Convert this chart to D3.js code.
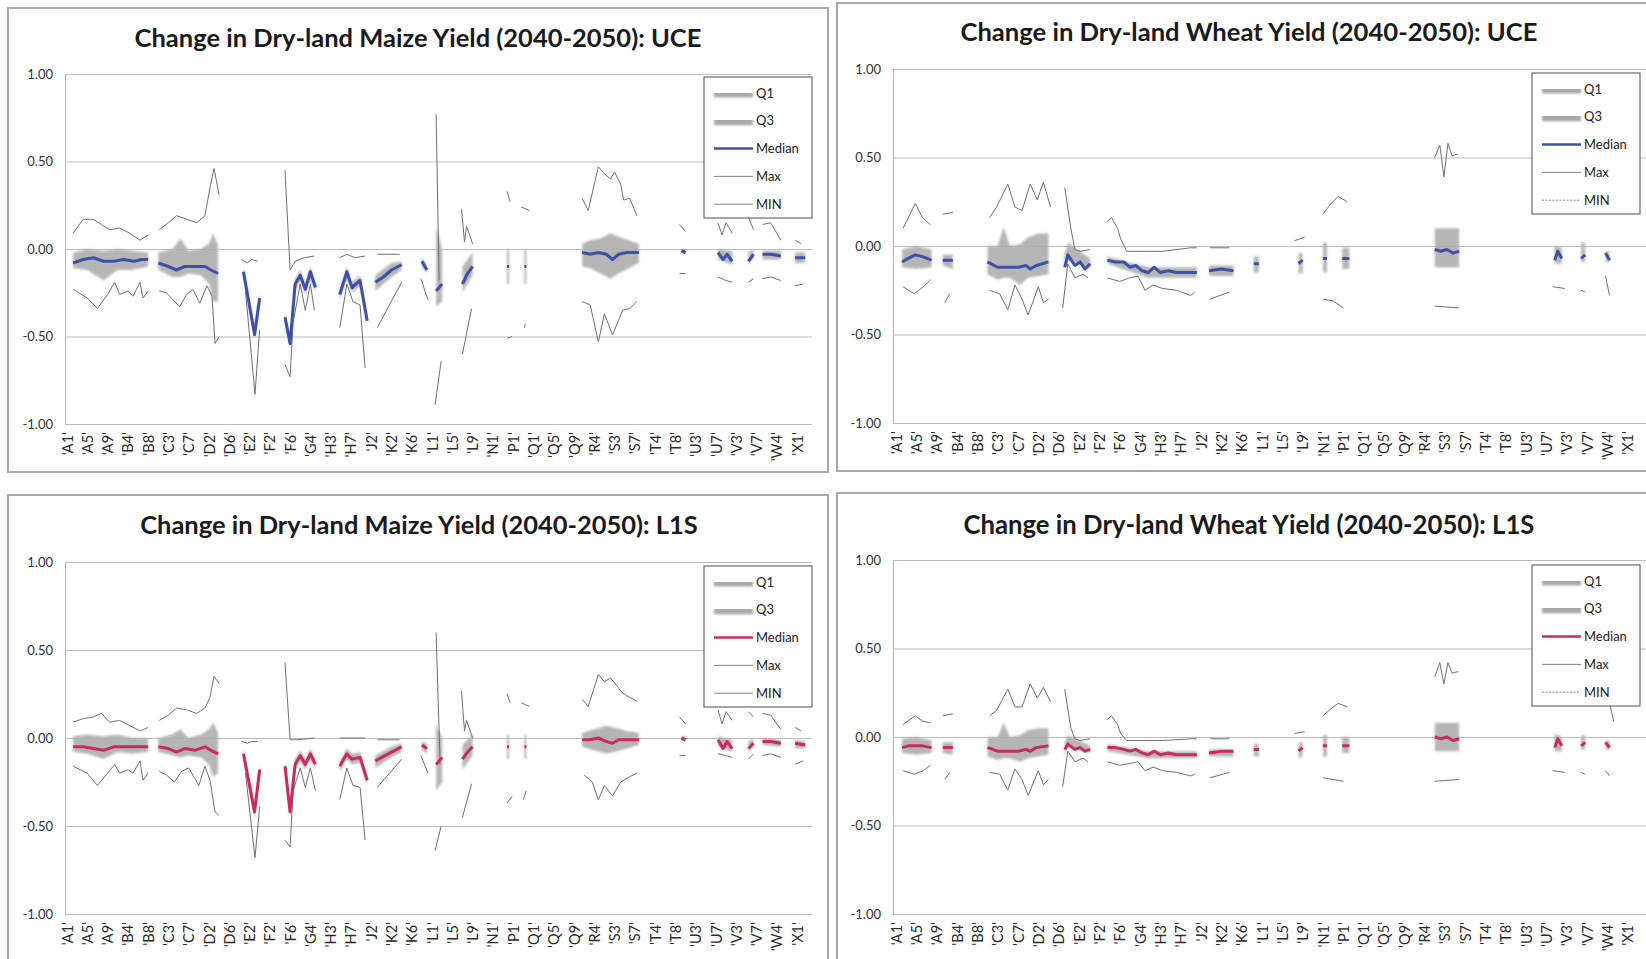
<!DOCTYPE html>
<html>
<head>
<meta charset="utf-8">
<script src="https://cdn.jsdelivr.net/npm/d3@7"></script>
<style>
  body { margin: 0; background: #fff; }
  svg { display: block; font-family: Lato, "Open Sans", sans-serif; }
</style>
</head>
<body>
<svg id="chart" width="1646" height="959"></svg>
<script>
// category labels on the x axis (every 4th site)
const xLabels = ["'A1'","'A5'","'A9'","'B4'","'B8'","'C3'","'C7'","'D2'","'D6'","'E2'","'F2'","'F6'","'G4'",
  "'H3'","'H7'","'J2'","'K2'","'K6'","'L1'","'L5'","'L9'","'N1'","'P1'","'Q1'","'Q5'","'Q9'","'R4'","'S3'",
  "'S7'","'T4'","'T8'","'U3'","'U7'","'V3'","'V7'","'W4'","'X1'"];
const yTicks = [-1, -0.5, 0, 0.5, 1];
const legendNames = ["Q1", "Q3", "Median", "Max", "MIN"];

// x = position along the category axis (label index), null = gap
// ---- Maize UCE
const maizeUCE_med = [[0.3,-0.08],[0.8,-0.06],[1.3,-0.05],[1.8,-0.07],[2.3,-0.07],[2.8,-0.06],[3.3,-0.07],[3.7,-0.06],[4.0,-0.06],null,
  [4.5,-0.08],[5.0,-0.10],[5.4,-0.12],[5.8,-0.10],[6.3,-0.10],[6.8,-0.10],[7.1,-0.12],[7.45,-0.14],null,
  [8.7,-0.13],[9.25,-0.49],[9.5,-0.28],null,
  [10.75,-0.39],[11.0,-0.54],[11.25,-0.20],[11.5,-0.15],[11.75,-0.23],[12.0,-0.13],[12.25,-0.22],null,
  [13.45,-0.26],[13.8,-0.13],[14.05,-0.22],[14.45,-0.18],[14.8,-0.41],null,
  [15.2,-0.19],[15.6,-0.16],[16.0,-0.12],[16.5,-0.09],null,
  [17.5,-0.07],[17.75,-0.12],null,[18.2,-0.24],[18.5,-0.20],null,[19.5,-0.20],[19.75,-0.14],[20.0,-0.10],null,
  [21.7,-0.10],[21.8,-0.10],null,[22.55,-0.10],[22.65,-0.10],null,
  [25.4,-0.02],[25.8,-0.03],[26.2,-0.02],[26.6,-0.03],[26.9,-0.06],[27.2,-0.03],[27.6,-0.02],[28.2,-0.02],null,
  [30.3,-0.01],[30.5,-0.02],null,[32.1,-0.02],[32.35,-0.06],[32.55,-0.03],[32.8,-0.07],null,
  [33.6,-0.07],[33.85,-0.03],null,[34.3,-0.03],[34.7,-0.03],[35.2,-0.04],null,[35.9,-0.05],[36.4,-0.05]];
const maizeUCE_q = [[0.3,-0.11,-0.02],[1.0,-0.12,0.0],[1.8,-0.18,-0.01],[2.5,-0.12,0.0],[3.2,-0.12,-0.01],[4.0,-0.10,-0.02],null,
  [4.5,-0.12,-0.02],[5.2,-0.16,0.0],[5.6,-0.16,0.06],[6.0,-0.14,-0.01],[6.6,-0.15,0.0],[7.0,-0.20,0.03],[7.2,-0.30,0.09],[7.45,-0.30,0.02],null,
  [8.7,-0.16,-0.10],[9.25,-0.50,-0.44],[9.5,-0.31,-0.25],null,
  [10.75,-0.42,-0.36],[11.0,-0.56,-0.50],[11.25,-0.24,-0.17],[11.5,-0.18,-0.12],[11.75,-0.26,-0.20],[12.0,-0.17,-0.10],[12.25,-0.25,-0.19],null,
  [13.45,-0.29,-0.23],[13.8,-0.17,-0.10],[14.05,-0.25,-0.19],[14.45,-0.21,-0.15],[14.8,-0.44,-0.38],null,
  [15.2,-0.24,-0.15],[16.0,-0.16,-0.08],[16.5,-0.12,-0.07],null,
  [17.5,-0.10,-0.05],[17.75,-0.14,-0.09],null,[18.2,-0.33,0.13],[18.5,-0.30,0.0],null,[19.5,-0.25,-0.10],[20.0,-0.15,-0.02],null,
  [21.7,-0.20,0.0],[21.8,-0.20,0.0],null,[22.55,-0.20,0.0],[22.65,-0.20,0.0],null,
  [25.4,-0.10,0.03],[25.8,-0.11,0.05],[26.3,-0.14,0.06],[26.8,-0.17,0.09],[27.2,-0.14,0.07],[27.7,-0.11,0.05],[28.2,-0.08,0.03],null,
  [30.3,-0.03,0.0],[30.5,-0.03,0.0],null,[32.1,-0.06,0.0],[32.8,-0.09,-0.01],null,[33.6,-0.09,-0.02],[33.85,-0.05,0.0],null,
  [34.3,-0.06,-0.01],[35.2,-0.06,-0.01],null,[35.9,-0.08,-0.02],[36.4,-0.08,-0.02]];
const maizeUCE_max = [[0.3,0.09],[0.8,0.17],[1.3,0.17],[1.7,0.14],[2.1,0.11],[2.6,0.12],[3.1,0.09],[3.6,0.05],[4.0,0.08],null,
  [4.55,0.11],[5.0,0.15],[5.4,0.19],[5.9,0.17],[6.4,0.15],[6.8,0.19],[7.05,0.35],[7.25,0.46],[7.5,0.31],null,
  [8.6,-0.06],[8.9,-0.08],[9.1,-0.06],[9.4,-0.07],null,
  [10.75,0.45],[11.0,-0.12],[11.25,-0.07],[11.7,-0.05],[12.2,-0.04],null,
  [13.45,-0.05],[13.8,-0.03],[14.2,-0.05],[14.7,-0.04],null,[15.3,-0.03],[16.4,-0.03],null,
  [18.2,0.77],[18.35,-0.18],null,[19.45,0.23],[19.6,0.04],[19.7,0.13],[20.0,0.03],null,
  [21.7,0.33],[21.85,0.27],null,[22.4,0.24],[22.8,0.22],null,
  [25.4,0.29],[25.7,0.22],[26.2,0.47],[26.5,0.43],[26.8,0.40],[27.0,0.44],[27.3,0.37],[27.45,0.28],[27.75,0.29],[28.1,0.19],null,
  [30.2,0.14],[30.5,0.10],null,[32.1,0.15],[32.3,0.08],[32.5,0.15],[32.8,0.09],null,[33.6,0.18],[33.85,0.11],null,
  [34.3,0.14],[34.7,0.15],[35.0,0.09],[35.2,0.05],null,[35.9,0.05],[36.2,0.03]];
const maizeUCE_min = [[0.3,-0.23],[1.0,-0.28],[1.5,-0.34],[2.0,-0.26],[2.35,-0.19],[2.6,-0.26],[3.0,-0.24],[3.25,-0.27],[3.6,-0.19],[3.75,-0.28],[4.0,-0.24],null,
  [4.55,-0.24],[4.9,-0.25],[5.55,-0.33],[5.9,-0.26],[6.2,-0.23],[6.55,-0.31],[6.9,-0.21],[7.15,-0.27],[7.3,-0.54],[7.5,-0.50],null,
  [8.8,-0.24],[9.27,-0.83],[9.5,-0.46],null,
  [10.75,-0.66],[11.0,-0.73],[11.15,-0.42],[11.5,-0.20],[11.75,-0.35],[12.0,-0.20],[12.2,-0.35],null,
  [13.45,-0.45],[13.8,-0.20],[14.1,-0.30],[14.45,-0.32],[14.7,-0.68],null,
  [15.3,-0.45],[15.9,-0.32],[16.5,-0.19],null,[17.45,-0.17],[17.8,-0.29],null,[18.15,-0.89],[18.45,-0.64],null,
  [19.5,-0.60],[19.95,-0.34],null,[21.7,-0.51],[21.95,-0.50],null,[22.55,-0.45],[22.6,-0.43],null,
  [25.4,-0.30],[25.8,-0.32],[26.2,-0.53],[26.5,-0.37],[26.9,-0.49],[27.4,-0.35],[27.75,-0.34],[28.1,-0.30],null,
  [30.2,-0.14],[30.5,-0.14],null,[32.1,-0.16],[32.5,-0.18],[32.8,-0.19],null,[33.6,-0.19],[33.85,-0.17],null,
  [34.3,-0.17],[34.7,-0.16],[35.2,-0.18],null,[35.9,-0.21],[36.3,-0.20]];

// ---- Wheat UCE
const wheatUCE_med = [[0.3,-0.09],[0.6,-0.07],[0.95,-0.05],[1.3,-0.06],[1.75,-0.08],null,[2.3,-0.08],[2.8,-0.08],null,
  [4.5,-0.09],[5.0,-0.12],[5.5,-0.12],[6.0,-0.12],[6.4,-0.11],[6.6,-0.13],[6.9,-0.11],[7.5,-0.09],null,
  [8.3,-0.12],[8.45,-0.05],[8.8,-0.11],[9.05,-0.09],[9.3,-0.13],[9.55,-0.10],null,
  [10.4,-0.08],[10.8,-0.09],[11.2,-0.09],[11.5,-0.12],[11.8,-0.11],[12.1,-0.14],[12.4,-0.15],[12.7,-0.12],[13.0,-0.15],
  [13.4,-0.14],[13.8,-0.15],[14.3,-0.15],[14.8,-0.15],null,[15.4,-0.14],[16.0,-0.13],[16.6,-0.14],null,
  [17.6,-0.10],[17.85,-0.10],null,[19.8,-0.10],[20.0,-0.08],null,[21.0,-0.07],[21.2,-0.07],null,[21.95,-0.07],[22.3,-0.07],null,
  [26.5,-0.02],[26.8,-0.03],[27.1,-0.02],[27.4,-0.04],[27.7,-0.03],null,
  [32.4,-0.08],[32.55,-0.03],[32.75,-0.07],null,[33.7,-0.07],[33.9,-0.05],null,[34.9,-0.04],[35.1,-0.08]];
const wheatUCE_q = [[0.3,-0.12,-0.02],[1.0,-0.13,0.0],[1.75,-0.12,-0.02],null,[2.3,-0.11,-0.05],[2.8,-0.13,-0.05],null,
  [4.5,-0.16,0.0],[5.0,-0.19,0.0],[5.3,-0.18,0.11],[5.6,-0.18,0.0],[6.1,-0.22,0.01],[6.5,-0.18,0.05],[7.0,-0.17,0.07],[7.5,-0.16,0.07],null,
  [8.3,-0.15,-0.04],[8.45,-0.08,0.02],[9.55,-0.13,-0.07],null,
  [10.4,-0.10,-0.06],[12.4,-0.18,-0.12],[14.8,-0.18,-0.12],null,[15.4,-0.17,-0.11],[16.6,-0.17,-0.11],null,
  [17.6,-0.15,-0.06],[17.85,-0.15,-0.06],null,[19.8,-0.16,-0.04],[20.0,-0.15,-0.04],null,
  [21.0,-0.15,0.02],[21.2,-0.15,0.02],null,[21.95,-0.13,-0.01],[22.3,-0.13,-0.01],null,
  [26.5,-0.12,0.10],[27.7,-0.12,0.10],null,[32.4,-0.10,0.0],[32.75,-0.10,-0.01],null,
  [33.7,-0.09,0.02],[33.9,-0.09,0.02],null,[34.9,-0.09,-0.03],[35.1,-0.09,-0.03]];
const wheatUCE_max = [[0.35,0.10],[0.95,0.24],[1.3,0.16],[1.7,0.12],null,[2.3,0.18],[2.8,0.19],null,
  [4.6,0.16],[4.95,0.22],[5.5,0.35],[5.85,0.22],[6.2,0.20],[6.6,0.35],[6.95,0.26],[7.25,0.36],[7.6,0.22],null,
  [8.3,0.33],[8.6,0.10],[8.8,-0.02],[9.05,-0.03],[9.55,-0.02],null,
  [10.4,0.14],[10.6,0.16],[10.9,0.10],[11.05,0.04],[11.35,-0.03],[12.0,-0.03],[13.1,-0.03],[14.5,-0.01],[14.8,-0.01],null,
  [15.45,-0.01],[16.4,-0.01],null,[19.6,0.03],[20.1,0.05],null,[21.0,0.18],[21.4,0.24],[21.75,0.28],[22.2,0.25],null,
  [26.5,0.50],[26.75,0.57],[26.95,0.39],[27.15,0.58],[27.35,0.51],[27.65,0.52]];
const wheatUCE_min = [[0.35,-0.23],[0.9,-0.27],[1.35,-0.23],[1.7,-0.19],null,[2.4,-0.32],[2.65,-0.27],null,
  [4.6,-0.25],[5.1,-0.27],[5.5,-0.36],[5.85,-0.22],[6.2,-0.30],[6.5,-0.39],[7.0,-0.23],[7.25,-0.32],[7.5,-0.30],null,
  [8.2,-0.35],[8.45,-0.10],[8.8,-0.18],[9.2,-0.16],[9.45,-0.18],null,
  [10.4,-0.18],[11.0,-0.20],[11.5,-0.18],[11.9,-0.17],[12.25,-0.25],[12.65,-0.22],[13.1,-0.24],[13.8,-0.25],[14.5,-0.28],[14.7,-0.26],null,
  [15.45,-0.30],[16.4,-0.26],null,[21.0,-0.30],[21.5,-0.31],[22.0,-0.35],null,[26.5,-0.34],[27.7,-0.35],null,
  [32.3,-0.23],[32.9,-0.24],null,[33.7,-0.25],[33.9,-0.26],null,[34.9,-0.17],[35.1,-0.28]];

// ---- Maize L1S
const maizeL1S_med = [[0.3,-0.05],[0.8,-0.05],[1.3,-0.06],[1.8,-0.07],[2.3,-0.05],[2.8,-0.05],[3.3,-0.05],[3.7,-0.05],[4.0,-0.05],null,
  [4.5,-0.05],[5.0,-0.06],[5.4,-0.08],[5.8,-0.06],[6.3,-0.07],[6.8,-0.05],[7.1,-0.07],[7.45,-0.09],null,
  [8.7,-0.09],[9.25,-0.42],[9.5,-0.18],null,
  [10.75,-0.16],[11.0,-0.42],[11.25,-0.15],[11.5,-0.10],[11.75,-0.15],[12.0,-0.09],[12.25,-0.15],null,
  [13.45,-0.16],[13.8,-0.09],[14.05,-0.12],[14.45,-0.11],[14.8,-0.24],null,
  [15.2,-0.13],[16.0,-0.08],[16.5,-0.05],null,[17.5,-0.04],[17.75,-0.06],null,[18.2,-0.15],[18.5,-0.11],null,
  [19.5,-0.12],[19.75,-0.08],[20.0,-0.05],null,[21.7,-0.05],[21.8,-0.05],null,[22.55,-0.05],[22.65,-0.05],null,
  [25.4,-0.01],[25.8,-0.01],[26.2,0.0],[26.6,-0.02],[26.9,-0.03],[27.2,-0.01],[27.6,-0.01],[28.2,-0.01],null,
  [30.3,0.0],[30.5,-0.01],null,[32.1,-0.01],[32.35,-0.06],[32.55,-0.02],[32.8,-0.06],null,[33.6,-0.06],[33.85,-0.03],null,
  [34.3,-0.02],[34.7,-0.02],[35.2,-0.03],null,[35.9,-0.03],[36.4,-0.04]];
const maizeL1S_q = [[0.3,-0.08,0.01],[1.0,-0.09,0.02],[1.8,-0.12,0.01],[2.5,-0.08,0.02],[3.2,-0.09,0.0],[4.0,-0.08,0.0],null,
  [4.5,-0.08,0.0],[5.2,-0.10,0.02],[5.6,-0.11,0.05],[6.0,-0.10,0.0],[6.6,-0.11,0.02],[7.0,-0.15,0.05],[7.2,-0.22,0.09],[7.45,-0.20,0.03],null,
  [8.7,-0.11,-0.06],[9.25,-0.45,-0.38],[9.5,-0.21,-0.15],null,
  [10.75,-0.20,-0.13],[11.0,-0.45,-0.38],[11.25,-0.18,-0.12],[11.5,-0.13,-0.07],[11.75,-0.18,-0.12],[12.0,-0.12,-0.06],[12.25,-0.18,-0.12],null,
  [13.45,-0.19,-0.13],[13.8,-0.12,-0.06],[14.05,-0.15,-0.09],[14.45,-0.14,-0.08],[14.8,-0.27,-0.21],null,
  [15.2,-0.17,-0.10],[16.0,-0.11,-0.05],[16.5,-0.08,-0.03],null,[17.5,-0.07,-0.02],[17.75,-0.09,-0.03],null,
  [18.2,-0.30,0.08],[18.5,-0.25,0.0],null,[19.5,-0.18,-0.04],[20.0,-0.10,0.02],null,
  [21.7,-0.12,0.02],[21.8,-0.12,0.02],null,[22.55,-0.12,0.02],[22.65,-0.12,0.02],null,
  [25.4,-0.05,0.03],[26.0,-0.07,0.05],[26.6,-0.09,0.07],[27.0,-0.08,0.06],[27.6,-0.06,0.04],[28.2,-0.04,0.03],null,
  [30.3,-0.02,0.01],[30.5,-0.02,0.01],null,[32.1,-0.05,0.01],[32.8,-0.08,-0.01],null,[33.6,-0.08,-0.02],[33.85,-0.05,0.0],null,
  [34.3,-0.04,0.0],[35.2,-0.05,-0.01],null,[35.9,-0.06,-0.01],[36.4,-0.06,-0.02]];
const maizeL1S_max = [[0.3,0.09],[0.8,0.11],[1.3,0.12],[1.7,0.14],[2.1,0.09],[2.6,0.10],[3.1,0.07],[3.6,0.04],[4.0,0.06],null,
  [4.55,0.10],[5.0,0.13],[5.4,0.17],[5.9,0.16],[6.4,0.14],[6.8,0.17],[7.05,0.23],[7.25,0.35],[7.5,0.31],null,
  [8.6,-0.02],[8.9,-0.03],[9.1,-0.02],[9.4,-0.02],null,[10.75,0.43],[11.0,-0.01],[11.3,-0.01],[12.2,0.0],null,
  [13.45,0.0],[14.7,0.0],null,[15.3,-0.01],[16.4,-0.01],null,[18.2,0.60],[18.4,-0.15],null,
  [19.45,0.27],[19.6,0.04],[19.7,0.10],[20.0,0.0],null,[21.7,0.25],[21.85,0.20],null,[22.4,0.20],[22.8,0.18],null,
  [25.4,0.22],[25.7,0.18],[26.2,0.36],[26.5,0.32],[26.8,0.34],[27.1,0.30],[27.35,0.26],[27.6,0.24],[28.1,0.21],null,
  [30.2,0.12],[30.5,0.08],null,[32.1,0.16],[32.3,0.08],[32.5,0.15],[32.8,0.10],null,[33.6,0.15],[33.85,0.12],null,
  [34.3,0.14],[34.7,0.13],[35.0,0.08],[35.2,0.05],null,[35.9,0.06],[36.2,0.04]];
const maizeL1S_min = [[0.3,-0.16],[1.0,-0.20],[1.5,-0.27],[2.0,-0.20],[2.35,-0.15],[2.6,-0.20],[3.0,-0.18],[3.25,-0.20],[3.6,-0.13],[3.75,-0.24],[4.0,-0.20],null,
  [4.55,-0.19],[4.9,-0.21],[5.3,-0.25],[5.65,-0.19],[6.0,-0.17],[6.5,-0.27],[6.8,-0.16],[7.05,-0.24],[7.3,-0.42],[7.5,-0.44],null,
  [8.8,-0.20],[9.27,-0.68],[9.5,-0.39],null,
  [10.75,-0.58],[11.0,-0.62],[11.15,-0.30],[11.5,-0.17],[11.75,-0.28],[12.0,-0.17],[12.25,-0.30],null,
  [13.45,-0.35],[13.8,-0.17],[14.1,-0.27],[14.45,-0.28],[14.7,-0.58],null,
  [15.3,-0.28],[15.9,-0.20],[16.5,-0.12],null,[17.45,-0.10],[17.8,-0.20],null,[18.15,-0.64],[18.45,-0.50],null,
  [19.5,-0.45],[19.95,-0.26],null,[21.7,-0.37],[21.95,-0.33],null,[22.5,-0.35],[22.65,-0.30],null,
  [25.5,-0.21],[25.9,-0.25],[26.2,-0.35],[26.5,-0.27],[26.9,-0.33],[27.3,-0.25],[27.75,-0.22],[28.1,-0.20],null,
  [30.2,-0.10],[30.5,-0.10],null,[32.1,-0.09],[32.5,-0.10],[32.8,-0.11],null,[33.6,-0.12],[33.85,-0.09],null,
  [34.3,-0.10],[34.7,-0.09],[35.2,-0.11],null,[35.9,-0.15],[36.3,-0.13]];

// ---- Wheat L1S
const wheatL1S_med = [[0.3,-0.06],[0.6,-0.05],[0.95,-0.05],[1.3,-0.05],[1.75,-0.06],null,[2.3,-0.06],[2.8,-0.06],null,
  [4.5,-0.06],[5.0,-0.08],[5.5,-0.08],[6.0,-0.08],[6.4,-0.07],[6.6,-0.08],[6.9,-0.06],[7.5,-0.05],null,
  [8.3,-0.07],[8.45,-0.04],[8.8,-0.07],[9.05,-0.06],[9.3,-0.08],[9.55,-0.07],null,
  [10.4,-0.06],[10.8,-0.06],[11.2,-0.07],[11.5,-0.08],[11.8,-0.07],[12.1,-0.09],[12.4,-0.10],[12.7,-0.08],[13.0,-0.10],
  [13.4,-0.09],[13.8,-0.10],[14.3,-0.10],[14.8,-0.10],null,[15.4,-0.09],[16.0,-0.08],[16.6,-0.08],null,
  [17.6,-0.07],[17.85,-0.07],null,[19.8,-0.08],[20.0,-0.06],null,[21.0,-0.05],[21.2,-0.05],null,[21.95,-0.05],[22.3,-0.05],null,
  [26.5,0.0],[26.8,-0.01],[27.1,0.0],[27.4,-0.02],[27.7,-0.01],null,
  [32.4,-0.06],[32.55,-0.01],[32.75,-0.05],null,[33.7,-0.05],[33.9,-0.03],null,[34.9,-0.03],[35.1,-0.06]];
const wheatL1S_q = [[0.3,-0.09,-0.01],[1.0,-0.10,0.0],[1.75,-0.09,-0.02],null,[2.3,-0.09,-0.03],[2.8,-0.10,-0.03],null,
  [4.5,-0.11,0.0],[5.0,-0.13,0.0],[5.3,-0.12,0.08],[5.6,-0.12,0.0],[6.1,-0.14,0.01],[6.5,-0.12,0.04],[7.0,-0.11,0.05],[7.5,-0.10,0.05],null,
  [8.3,-0.10,-0.03],[8.45,-0.06,0.01],[9.55,-0.09,-0.05],null,
  [10.4,-0.08,-0.04],[12.4,-0.12,-0.08],[14.8,-0.12,-0.08],null,[15.4,-0.11,-0.07],[16.6,-0.11,-0.07],null,
  [17.6,-0.11,-0.04],[17.85,-0.11,-0.04],null,[19.8,-0.12,-0.03],[20.0,-0.11,-0.03],null,
  [21.0,-0.11,0.01],[21.2,-0.11,0.01],null,[21.95,-0.09,0.0],[22.3,-0.09,0.0],null,
  [26.5,-0.08,0.08],[27.7,-0.08,0.08],null,[32.4,-0.08,0.02],[32.75,-0.08,0.0],null,
  [33.7,-0.07,0.01],[33.9,-0.07,0.01],null,[34.9,-0.07,-0.02],[35.1,-0.07,-0.02]];
const wheatL1S_max = [[0.35,0.07],[0.95,0.12],[1.3,0.09],[1.7,0.08],null,[2.3,0.12],[2.8,0.13],null,
  [4.6,0.12],[4.95,0.15],[5.5,0.27],[5.85,0.17],[6.2,0.17],[6.6,0.30],[6.95,0.22],[7.25,0.28],[7.6,0.20],null,
  [8.3,0.27],[8.6,0.05],[8.8,-0.01],[9.05,-0.02],[9.55,-0.01],null,
  [10.4,0.10],[10.6,0.12],[10.9,0.07],[11.05,0.02],[11.35,-0.02],[12.0,-0.02],[13.1,-0.02],[14.5,-0.01],[14.8,-0.01],null,
  [15.45,-0.01],[16.4,-0.01],null,[19.6,0.02],[20.1,0.03],null,[21.0,0.12],[21.4,0.16],[21.75,0.19],[22.2,0.17],null,
  [26.5,0.34],[26.75,0.42],[26.95,0.30],[27.15,0.42],[27.35,0.36],[27.65,0.37],null,[35.1,0.19],[35.3,0.09]];
const wheatL1S_min = [[0.35,-0.19],[0.9,-0.21],[1.35,-0.19],[1.7,-0.16],null,[2.4,-0.24],[2.65,-0.20],null,
  [4.6,-0.20],[5.1,-0.21],[5.5,-0.30],[5.85,-0.18],[6.2,-0.24],[6.5,-0.33],[7.0,-0.19],[7.25,-0.27],[7.5,-0.24],null,
  [8.2,-0.28],[8.45,-0.08],[8.8,-0.14],[9.2,-0.12],[9.45,-0.14],null,
  [10.4,-0.14],[11.0,-0.16],[11.5,-0.15],[11.9,-0.14],[12.25,-0.19],[12.65,-0.17],[13.1,-0.19],[13.8,-0.20],[14.5,-0.22],[14.7,-0.21],null,
  [15.45,-0.23],[16.4,-0.20],null,[21.0,-0.23],[21.5,-0.24],[22.0,-0.25],null,[26.5,-0.25],[27.7,-0.24],null,
  [32.3,-0.19],[32.9,-0.20],null,[33.7,-0.20],[33.9,-0.21],null,[34.9,-0.19],[35.1,-0.22]];

// panel layout table built from the arrays above
const panels = [
  { title: "Change in Dry-land Maize Yield (2040-2050): UCE", titleX: 418, titleY: 47, titleW: 567,
    box: [8, 8, 828, 472], axisX: 65, x0: 67, step: 20.28, gridRight: 812, yTop: 74, yBot: 424,
    legend: [704, 77], color: "#3d52a6", minDash: null,
    med: maizeUCE_med, q: maizeUCE_q, max: maizeUCE_max, min: maizeUCE_min },
  { title: "Change in Dry-land Wheat Yield (2040-2050): UCE", titleX: 1249, titleY: 41, titleW: 577,
    box: [837, 3, 1660, 471], axisX: 893, x0: 896, step: 20.33, gridRight: 1646, yTop: 69, yBot: 423,
    legend: [1532, 73], color: "#3d52a6", minDash: "2,1.5",
    med: wheatUCE_med, q: wheatUCE_q, max: wheatUCE_max, min: wheatUCE_min },
  { title: "Change in Dry-land Maize Yield (2040-2050): L1S", titleX: 419, titleY: 534, titleW: 558,
    box: [8, 495, 828, 975], axisX: 65, x0: 67, step: 20.28, gridRight: 812, yTop: 562, yBot: 914,
    legend: [704, 566], color: "#c92c5c", minDash: null,
    med: maizeL1S_med, q: maizeL1S_q, max: maizeL1S_max, min: maizeL1S_min },
  { title: "Change in Dry-land Wheat Yield (2040-2050): L1S", titleX: 1249, titleY: 534, titleW: 571,
    box: [837, 493, 1660, 975], axisX: 893, x0: 896, step: 20.33, gridRight: 1646, yTop: 560, yBot: 914,
    legend: [1532, 565], color: "#c92c5c", minDash: "2,1.5",
    med: wheatL1S_med, q: wheatL1S_q, max: wheatL1S_max, min: wheatL1S_min }
];

const svg = d3.select("#chart");
svg.append("defs").append("filter").attr("id", "soft")
   .attr("filterUnits", "userSpaceOnUse")
   .attr("x", 0).attr("y", 0).attr("width", 1646).attr("height", 959)
   .append("feGaussianBlur").attr("stdDeviation", 1.2);

const drawPanel = function(p) {
    const g = svg.append("g");

    g.append("rect")
     .attr("x", p.box[0]).attr("y", p.box[1])
     .attr("width", p.box[2] - p.box[0]).attr("height", p.box[3] - p.box[1])
     .attr("fill", "#fff").attr("stroke", "#a9a9a9").attr("stroke-width", 2);

    const x = d3.scaleLinear()
        .domain([0, xLabels.length - 1])
        .range([p.x0, p.x0 + p.step * (xLabels.length - 1)]);
    const y = d3.scaleLinear().domain([-1, 1]).range([p.yBot, p.yTop]);

    // title, fitted to the width seen in the picture
    const t = g.append("text")
        .attr("x", p.titleX).attr("y", p.titleY)
        .attr("text-anchor", "middle")
        .attr("font-weight", "bold").attr("font-size", 24).attr("fill", "#1a1a1a")
        .text(p.title);
    const tw = t.node().getComputedTextLength();
    t.attr("font-size", 24 * p.titleW / tw);

    // y axis with grid lines
    const yAx = g.append("g")
        .attr("transform", `translate(${p.axisX},0)`)
        .call(d3.axisLeft(y)
            .tickValues(yTicks)
            .tickFormat(d => d.toFixed(2))
            .tickSize(-(p.gridRight - p.axisX))
            .tickSizeOuter(0)
            .tickPadding(12));
    yAx.select(".domain").attr("stroke", "#b5b5b5");
    yAx.selectAll(".tick line").attr("stroke", "#bcbcbc").attr("stroke-width", 1.2);
    yAx.selectAll(".tick text")
       .attr("font-size", 13).attr("fill", "#333")
       .attr("font-family", "Lato, sans-serif");

    // x axis, rotated labels
    const xAx = g.append("g")
        .attr("transform", `translate(0,${p.yBot})`)
        .call(d3.axisBottom(x)
            .tickValues(d3.range(xLabels.length))
            .tickFormat(i => xLabels[i])
            .tickSize(0));
    xAx.select(".domain").remove();
    xAx.selectAll(".tick text")
       .attr("transform", "rotate(-90)")
       .attr("text-anchor", "end")
       .attr("x", -8).attr("y", 0).attr("dy", "0.35em")
       .attr("font-size", 14.5).attr("fill", "#2a2a2a")
       .attr("font-family", "Lato, sans-serif");

    // Q1-Q3 band
    const area = d3.area()
        .defined(d => d)
        .x(d => x(d[0]))
        .y0(d => y(d[1]))
        .y1(d => y(d[2]));
    g.append("path")
     .datum(p.q)
     .attr("d", area)
     .attr("fill", "#aeaeae")
     .attr("opacity", 0.9)
     .attr("filter", "url(#soft)");

    const line = d3.line()
        .defined(d => d)
        .x(d => x(d[0]))
        .y(d => y(d[1]));

    g.append("path").datum(p.max).attr("d", line)
     .attr("fill", "none").attr("stroke", "#707070").attr("stroke-width", 1);
    g.append("path").datum(p.min).attr("d", line)
     .attr("fill", "none").attr("stroke", "#707070").attr("stroke-width", 1);
    g.append("path").datum(p.med).attr("d", line)
     .attr("fill", "none").attr("stroke", p.color).attr("stroke-width", 3)
     .attr("stroke-linejoin", "round");

    // legend
    const lg = g.append("g").attr("transform", `translate(${p.legend[0]},${p.legend[1]})`);
    lg.append("rect").attr("width", 108).attr("height", 141)
      .attr("fill", "#fff").attr("stroke", "#4d4d4d").attr("stroke-width", 1);
    const items = lg.selectAll("g.item")
        .data(legendNames)
        .enter()
        .append("g")
        .attr("class", "item")
        .attr("transform", (d, i) => `translate(0,${16 + i * 27.8})`);
    items.filter((d, i) => i < 2)
         .append("rect")
         .attr("x", 10).attr("y", -4.5).attr("width", 39).attr("height", 9)
         .attr("fill", "#a9a9a9")
         .attr("filter", "url(#soft)");
    items.filter((d, i) => i >= 2)
         .append("line")
         .attr("x1", 10).attr("x2", 49)
         .attr("stroke", (d, i) => d == "Median" ? p.color : "#777")
         .attr("stroke-width", d => d == "Median" ? 2.5 : 0.9)
         .attr("stroke-dasharray", d => d == "MIN" ? p.minDash : null);
    items.append("text")
         .attr("x", 52).attr("dy", "0.35em")
         .attr("font-size", 13).attr("fill", "#222")
         .text(d => d);
}

panels.forEach(drawPanel);
</script>
</body>
</html>
